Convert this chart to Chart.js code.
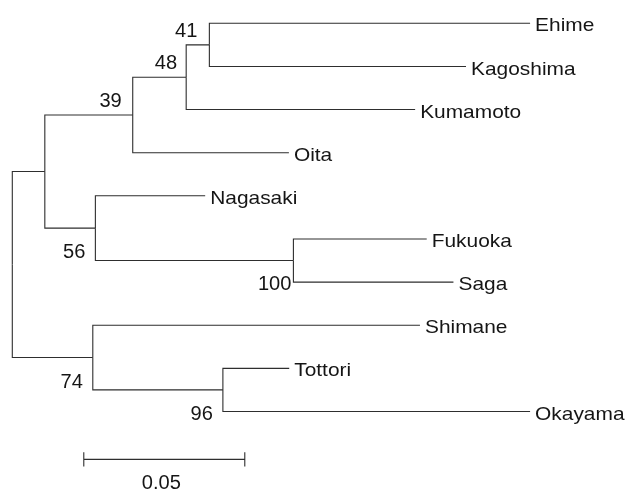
<!DOCTYPE html>
<html>
<head>
<meta charset="utf-8">
<script src="https://cdn.jsdelivr.net/npm/chart.js@4/dist/chart.umd.min.js"></script>
<style>
  html, body { margin: 0; padding: 0; background: #ffffff; }
  #wrap { width: 629px; height: 491px; }
</style>
</head>
<body>
<div id="wrap"><canvas id="c" width="629" height="491"></canvas></div>
<script>
// ---------- DATA ----------
// leaves, top to bottom
const leafNames = ['Ehime', 'Kagoshima', 'Kumamoto', 'Oita', 'Nagasaki', 'Fukuoka', 'Saga', 'Shimane', 'Tottori', 'Okayama'];
// every node of the tree, its parent and the length of the branch leading to it
const nodeIds = ['root', 'A', 'n39', 'n48', 'n41', 'Ehime', 'Kagoshima', 'Kumamoto', 'Oita', 'n56', 'Nagasaki', 'n100', 'Fukuoka', 'Saga', 'n74', 'Shimane', 'n96', 'Tottori', 'Okayama'];
const parentIds = [null, 'root', 'A', 'n39', 'n48', 'n41', 'n41', 'n48', 'n39', 'A', 'n56', 'n56', 'n100', 'n100', 'root', 'n74', 'n74', 'n96', 'n96'];
const branchLengths = [0, 0.0101, 0.0273, 0.0166, 0.0072, 0.0996, 0.0797, 0.0711, 0.0485, 0.0157, 0.0341, 0.0615, 0.0414, 0.0497, 0.0250, 0.1016, 0.0404, 0.0206, 0.0954];
// bootstrap support values at internal nodes
const bootstrapNodes = ['n41', 'n48', 'n39', 'n56', 'n100', 'n74', 'n96'];
const bootstrapValues = [41, 48, 39, 56, 100, 74, 96];
// scale bar
const scaleBarLength = 0.05;
const scaleBarLabel = '0.05';

// ---------- LAYOUT (not data) ----------
const bootstrapSide = { n41: 'above', n48: 'above', n39: 'above', n56: 'below', n100: 'below', n74: 'below', n96: 'below' };
const bootstrapGap = { n41: 12, n48: 9, n39: 11, n56: 10, n100: 2, n74: 10, n96: 10 };
const lineColor = '#2e2e2e';
const textColor = '#151515';
const fontFamily = '"Liberation Sans", Arial, Helvetica, sans-serif';

// ---------- BUILD TREE GEOMETRY (data units) ----------
const idx = {};
nodeIds.forEach((id, i) => idx[id] = i);
const children = {};
nodeIds.forEach(id => children[id] = []);
parentIds.forEach((p, i) => { if (p) children[p].push(nodeIds[i]); });

const depth = {};
function setDepth(id, d) {
  depth[id] = d + branchLengths[idx[id]];
  children[id].forEach(c => setDepth(c, depth[id]));
}
setDepth('root', 0);

const ypos = {};
function setY(id) {
  if (children[id].length === 0) {
    ypos[id] = leafNames.indexOf(id);
  } else {
    const ys = children[id].map(setY);
    ypos[id] = (Math.min(...ys) + Math.max(...ys)) / 2;
  }
  return ypos[id];
}
setY('root');

const datasets = [];
nodeIds.forEach((id, i) => {
  const p = parentIds[i];
  if (!p) return;
  datasets.push({
    data: [
      { x: depth[p], y: ypos[p] },
      { x: depth[p], y: ypos[id] },
      { x: depth[id], y: ypos[id] }
    ],
    showLine: true,
    borderColor: lineColor,
    borderWidth: 1.1,
    pointRadius: 0,
    fill: false,
    tension: 0
  });
});

// scale bar (placed below the last leaf)
const barY = leafNames.length + 0.11;
const barX0 = 0.0222;
const barTick = 0.165;
datasets.push({
  data: [
    { x: barX0, y: barY - barTick }, { x: barX0, y: barY + barTick },
    { x: barX0, y: barY },
    { x: barX0 + scaleBarLength, y: barY },
    { x: barX0 + scaleBarLength, y: barY - barTick }, { x: barX0 + scaleBarLength, y: barY + barTick }
  ],
  showLine: true, borderColor: lineColor, borderWidth: 1.1, pointRadius: 0, fill: false, tension: 0
});

function drawText(ctx, text, x, yCapCenter, size, sx, align) {
  ctx.save();
  ctx.font = size + 'px ' + fontFamily;
  ctx.fillStyle = textColor;
  ctx.textBaseline = 'alphabetic';
  const w = ctx.measureText(text).width * sx;
  let left = x;
  if (align === 'right') left = x - w;
  else if (align === 'center') left = x - w / 2;
  ctx.translate(left, yCapCenter + size * 0.716 / 2);
  ctx.scale(sx, 1);
  ctx.textAlign = 'left';
  ctx.fillText(text, 0, 0);
  ctx.restore();
}

const labelPlugin = {
  id: 'treeLabels',
  afterDatasetsDraw(chart) {
    const ctx = chart.ctx;
    const xs = chart.scales.x, ys = chart.scales.y;
    // leaf labels
    leafNames.forEach(name => {
      const px = xs.getPixelForValue(depth[name]);
      const py = ys.getPixelForValue(ypos[name]);
      drawText(ctx, name, px + 5, py + 1.3, 19, 1.1, 'left');
    });
    // bootstrap values
    bootstrapNodes.forEach((id, i) => {
      const px = xs.getPixelForValue(depth[id]);
      const py = ys.getPixelForValue(ypos[id]);
      const cy = bootstrapSide[id] === 'above' ? py - 15 : py + 23;
      drawText(ctx, String(bootstrapValues[i]), px - bootstrapGap[id], cy, 19.5, 1.03, 'right');
    });
    // scale bar label
    const bx = (xs.getPixelForValue(barX0) + xs.getPixelForValue(barX0 + scaleBarLength)) / 2;
    const by = ys.getPixelForValue(barY);
    drawText(ctx, scaleBarLabel, bx - 3, by + 22.5, 19.5, 1.03, 'center');
  }
};

new Chart(document.getElementById('c'), {
  type: 'scatter',
  data: { datasets },
  options: {
    responsive: false,
    animation: false,
    layout: { padding: 0 },
    plugins: { legend: { display: false }, tooltip: { enabled: false } },
    scales: {
      x: { type: 'linear', display: false, min: -0.00382, max: 0.19152 },
      y: { type: 'linear', display: false, reverse: true, min: -0.5402, max: 10.8440 }
    }
  },
  plugins: [labelPlugin]
});
</script>
</body>
</html>
